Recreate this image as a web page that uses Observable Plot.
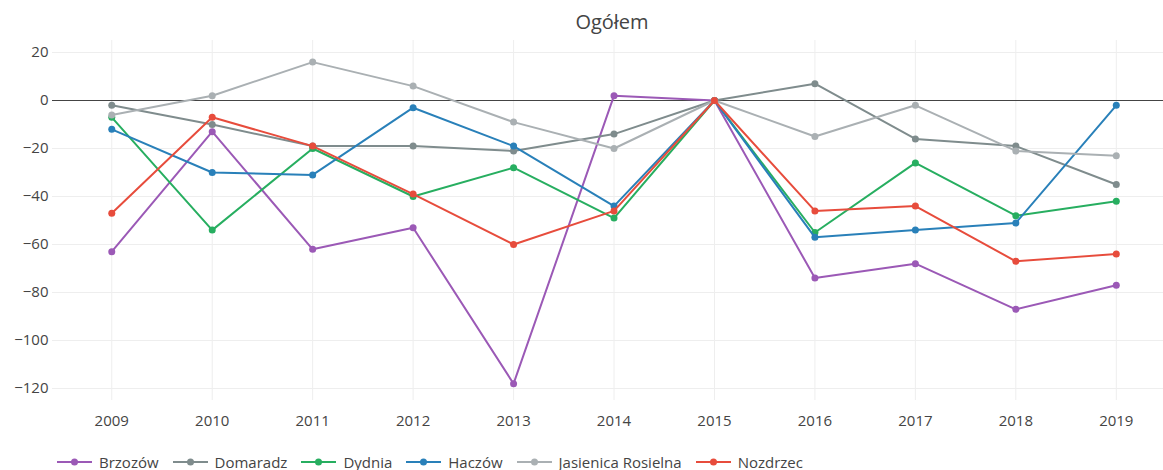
<!DOCTYPE html>
<html>
<head>
<meta charset="utf-8">
<script src="https://cdn.jsdelivr.net/npm/d3@7"></script>
<script src="https://cdn.jsdelivr.net/npm/@observablehq/plot@0.6"></script>
<style>
  html, body { margin: 0; padding: 0; background: #fff; }
  #wrap { position: relative; width: 1163px; height: 470px; overflow: hidden; font-family: "Open Sans", sans-serif; color: #444; }
  #title { position: absolute; top: 8px; left: 612px; transform: translateX(-50%); font-size: 20px; white-space: nowrap; }
  #chart { position: absolute; top: 0; left: 0; }
  #legend { position: absolute; top: 451px; left: 57px; display: flex; font-size: 15px; line-height: 22px; white-space: nowrap; }
  .item { display: flex; align-items: center; margin-right: 14px; }
  .item svg { margin-right: 7px; }
</style>
</head>
<body>
<div id="wrap">
  <div id="chart"></div>
  <div id="title">Ogółem</div>
  <div id="legend"></div>
</div>
<script>
const years = [2009, 2010, 2011, 2012, 2013, 2014, 2015, 2016, 2017, 2018, 2019];
const seriesNames = ["Brzozów", "Domaradz", "Dydnia", "Haczów", "Jasienica Rosielna", "Nozdrzec"];
const seriesColors = ["#9b59b6", "#7f8c8d", "#27ae60", "#2980b9", "#aab0b3", "#e74c3c"];
const brzozow   = [-63, -13, -62, -53, -118, 2, 0, -74, -68, -87, -77];
const domaradz  = [-2, -10, -19, -19, -21, -14, 0, 7, -16, -19, -35];
const dydnia    = [-7, -54, -20, -40, -28, -49, 0, -55, -26, -48, -42];
const haczow    = [-12, -30, -31, -3, -19, -44, 0, -57, -54, -51, -2];
const jasienica = [-6, 2, 16, 6, -9, -20, 0, -15, -2, -21, -23];
const nozdrzec  = [-47, -7, -19, -39, -60, -46, 0, -46, -44, -67, -64];
const yTicks = [-120, -100, -80, -60, -40, -20, 0, 20];

const seriesValues = [brzozow, domaradz, dydnia, haczow, jasienica, nozdrzec];
const rows = [];
seriesNames.forEach((name, s) => {
  years.forEach((yr, i) => rows.push({series: name, year: yr, value: seriesValues[s][i]}));
});

const marks = [
  Plot.gridX(years, {stroke: "#eeeeee", strokeOpacity: 1, strokeWidth: 1}),
  Plot.gridY(yTicks, {stroke: "#eeeeee", strokeOpacity: 1, strokeWidth: 1}),
  Plot.ruleY([0], {stroke: "#444", strokeWidth: 1})
];
seriesNames.forEach((name, s) => {
  const d = rows.filter(r => r.series === name);
  marks.push(Plot.line(d, {x: "year", y: "value", stroke: seriesColors[s], strokeWidth: 2}));
  marks.push(Plot.dot(d, {x: "year", y: "value", fill: seriesColors[s], r: 3.5}));
});

const chart = Plot.plot({
  width: 1163,
  height: 440,
  marginLeft: 52,
  marginRight: 0,
  marginTop: 40,
  marginBottom: 40,
  style: {fontFamily: "'Open Sans', sans-serif", fontSize: "15px", color: "#444", background: "transparent"},
  x: {domain: [2008.41, 2019.47], ticks: years, tickFormat: d => String(d), tickSize: 0, tickPadding: 15, label: null},
  y: {domain: [-125, 25], ticks: yTicks, tickSize: 0, tickPadding: 4, label: null},
  marks
});
document.getElementById("chart").appendChild(chart);

const legend = document.getElementById("legend");
seriesNames.forEach((name, s) => {
  const item = document.createElement("div");
  item.className = "item";
  item.innerHTML = `<svg width="35" height="12"><line x1="0" y1="6" x2="35" y2="6" stroke="${seriesColors[s]}" stroke-width="2"/><circle cx="17.5" cy="6" r="3.5" fill="${seriesColors[s]}"/></svg><span>${name}</span>`;
  legend.appendChild(item);
});
</script>
</body>
</html>
